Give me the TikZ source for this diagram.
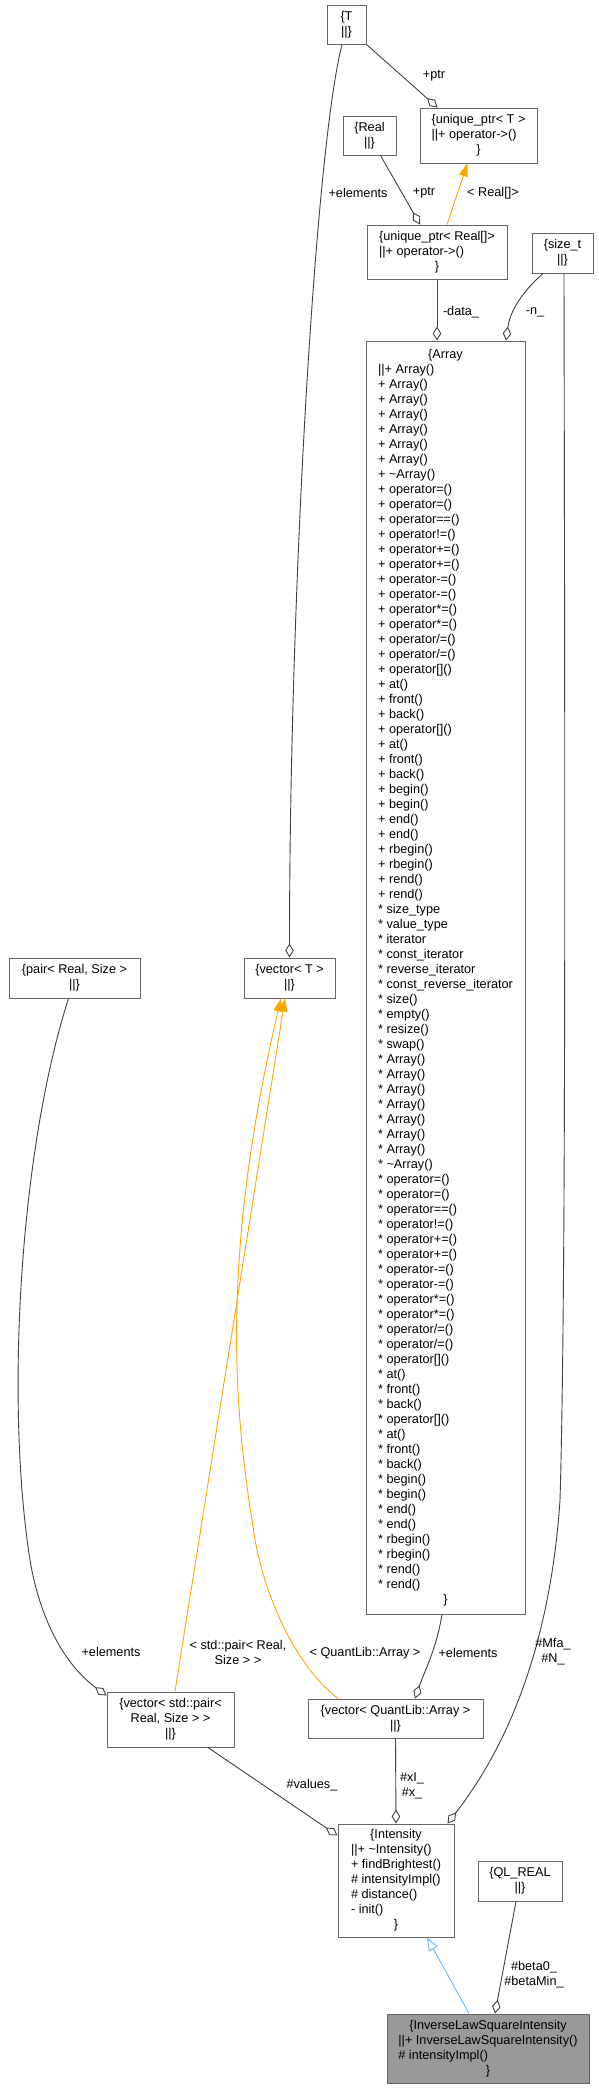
\documentclass[tikz,border=0pt]{standalone}
\usepackage{fontspec}
\setmainfont{Liberation Sans}
\usepackage{tikz}
\usetikzlibrary{calc,arrows.meta}

\definecolor{boxgray}{HTML}{666666}
\definecolor{edgegray}{HTML}{404040}
\definecolor{inhblue}{HTML}{63B8FF}
\definecolor{tplorange}{HTML}{FFA500}
\definecolor{selfgray}{HTML}{999999}

% member list, and a centred line in it
\newcommand{\members}[1]{\begin{tabular}{@{}l@{}}#1\end{tabular}}
\newcommand{\ctr}[1]{\multicolumn{1}{@{}c@{}}{#1}}
% the operators that Array lists twice
\newcommand{\arrayops}[1]{%
{#1} operator=()\\{#1} operator=()\\{#1} operator==()\\{#1} operator!=()\\%
{#1} operator+=()\\{#1} operator+=()\\{#1} operator-=()\\{#1} operator-=()\\%
{#1} operator*=()\\{#1} operator*=()\\{#1} operator/=()\\{#1} operator/=()\\%
{#1} operator[]()\\{#1} at()\\{#1} front()\\{#1} back()\\%
{#1} operator[]()\\{#1} at()\\{#1} front()\\{#1} back()\\%
{#1} begin()\\{#1} begin()\\{#1} end()\\{#1} end()\\%
{#1} rbegin()\\{#1} rbegin()\\{#1} rend()\\{#1} rend()}

\begin{document}
\begin{tikzpicture}[x=1pt, y=-1pt,
    classbox/.style={draw=boxgray, line width=1pt, fill=white, inner sep=0pt, font=\fontsize{12.7}{15}\selectfont},
    tplbox/.style={classbox, align=center},
    selfbox/.style={classbox, fill=selfgray},
    edgelabel/.style={inner sep=0pt, align=center, font=\fontsize{12.7}{15}\selectfont},
    aggr/.style={draw=edgegray, line width=0.9pt, -{Diamond[open, length=14pt, width=8.5pt]}},
    instarrow/.style={draw=tplorange, line width=0.9pt, -{Triangle[length=13pt, width=9pt]}},
    inharrow/.style={draw=inhblue, line width=0.9pt, -{Triangle[open, length=13pt, width=10pt]}}]
    \useasboundingbox (0,0) rectangle (599,2089);

    % Top row
    \node[tplbox, minimum width=39pt, minimum height=39pt] (T) at (346.5,24.5) {\{T\\||\}};
    \node[tplbox, minimum width=53pt, minimum height=39pt] (Real) at (369.5,135.5) {\{Real\\||\}};
    \node[classbox, minimum width=117pt, minimum height=55pt] (uptrT) at (478.5,135.5)
        {\members{\ctr{\{unique\_ptr< T >}\\||+ operator->()\\\ctr{\}}}};
    \node[classbox, minimum width=140pt, minimum height=54pt] (uptrReal) at (437,252)
        {\members{\ctr{\{unique\_ptr< Real[]>}\\||+ operator->()\\\ctr{\}}}};
    \node[tplbox, minimum width=61pt, minimum height=40pt] (sizet) at (562.5,253) {\{size\_t\\||\}};

    % Array
    \node[classbox, minimum width=159pt, minimum height=1273pt] (Array) at (445.5,977.5) {\members{%
        \ctr{\{Array}\\%
        ||+ Array()\\+ Array()\\+ Array()\\+ Array()\\+ Array()\\+ Array()\\+ Array()\\%
        + \textasciitilde Array()\\%
        \arrayops{+}\\%
        {*} size\_type\\{*} value\_type\\{*} iterator\\{*} const\_iterator\\%
        {*} reverse\_iterator\\{*} const\_reverse\_iterator\\%
        {*} size()\\{*} empty()\\{*} resize()\\{*} swap()\\%
        {*} Array()\\{*} Array()\\{*} Array()\\{*} Array()\\{*} Array()\\{*} Array()\\{*} Array()\\%
        {*} \textasciitilde Array()\\%
        \arrayops{*}\\%
        \ctr{\}}}};

    % Templates in the middle
    \node[tplbox, minimum width=131pt, minimum height=40pt] (pair) at (74.5,978) {\{pair< Real, Size >\\||\}};
    \node[tplbox, minimum width=91pt, minimum height=40pt] (vecT) at (289.5,978) {\{vector< T >\\||\}};
    \node[tplbox, minimum width=127pt, minimum height=55pt] (vecPair) at (170.5,1719.5)
        {\{vector< std::pair<\\Real, Size > >\\||\}};
    \node[tplbox, minimum width=175pt, minimum height=39pt] (vecArray) at (395.5,1718.5)
        {\{vector< QuantLib::Array >\\||\}};

    % Bottom
    \node[classbox, minimum width=116pt, minimum height=113pt] (Intensity) at (396,1880.5)
        {\members{\ctr{\{Intensity}\\||+ \textasciitilde Intensity()\\+ findBrightest()\\\# intensityImpl()\\\# distance()\\- init()\\\ctr{\}}}};
    \node[tplbox, minimum width=84pt, minimum height=40pt] (qlreal) at (520,1881) {\{QL\_REAL\\||\}};
    \node[selfbox, minimum width=202pt, minimum height=69pt] (ILSI) at (488,2048.5)
        {\members{\ctr{\{InverseLawSquareIntensity}\\||+ InverseLawSquareIntensity()\\\# intensityImpl()\\\ctr{\}}}};

    % Members
    \draw[aggr] (T.south east) -- ($(uptrT.north)+(-41,0)$);
    \draw[aggr] ($(Real.south)+(11,0)$) -- ($(uptrReal.north)+(-17,0)$);
    \draw[aggr] (uptrReal.south) -- (uptrReal.south |- Array.north);
    \draw[aggr] ($(sizet.south)+(-19.5,0)$) .. controls (530,285) and (511,305) .. ($(Array.north)+(60.5,0)$);
    \draw[aggr] ($(sizet.south)+(1.5,0)$) .. controls (565,800) and (566,1300) .. (560,1500)
        .. controls (552,1620) and (520,1730) .. ($(Intensity.north east)+(-7,0)$);
    \draw[aggr] ($(T.south)+(-4.5,0)$) .. controls (315,150) and (289.5,600) .. (vecT.north);
    \draw[aggr] ($(pair.south)+(-6,0)$) .. controls (20,1150) and (5,1400) .. (30,1560)
        .. controls (40,1620) and (65,1665) .. ($(vecPair.north west)+(0,4)$);
    \draw[aggr] ($(Array.south)+(-3.5,0)$) .. controls (436,1650) and (425,1670) .. ($(vecArray.north)+(19.5,0)$);
    \draw[aggr] ($(vecPair.south)+(37.5,0)$) -- ($(Intensity.north west)+(0,12)$);
    \draw[aggr] (vecArray.south) -- (Intensity.north);
    \draw[aggr] ($(qlreal.south)+(-4,0)$) -- ($(ILSI.north)+(7,0)$);

    % Template instances
    \draw[instarrow] ($(uptrReal.north)+(10,0)$) -- ($(uptrT.south)+(-11,0)$);
    \draw[instarrow] ($(vecPair.north)+(4.5,0)$) -- ($(vecT.south)+(-4.5,0)$);
    \draw[instarrow] ($(vecArray.north)+(-57.5,0)$) .. controls (300,1670) and (262,1600) .. (252,1520)
        .. controls (233,1400) and (222,1250) .. ($(vecT.south)+(-8.5,0)$);

    % Inheritance
    \draw[inharrow] ($(ILSI.north)+(-19,0)$) -- ($(Intensity.south)+(31,0)$);

    % Edge labels
    \node[edgelabel] (lptrT) at (434,76) {+ptr};
    \node[edgelabel] (lptrReal) at (424,193) {+ptr};
    \node[edgelabel] (lreal) at (493,193) {< Real[]>};
    \node[edgelabel] (lelemT) at (358,193) {+elements};
    \node[edgelabel] (ldata) at (461,312) {-data\_};
    \node[edgelabel] (ln) at (535,312) {-n\_};
    \node[edgelabel] (lmfa) at (553,1652) {\#Mfa\_\\\#N\_};
    \node[edgelabel] (lelemArray) at (468,1653) {+elements};
    \node[edgelabel] (lquantlib) at (365,1653) {< QuantLib::Array >};
    \node[edgelabel] (lstdpair) at (238,1652) {< std::pair< Real,\\Size > >};
    \node[edgelabel] (lelemPair) at (111,1652) {+elements};
    \node[edgelabel] (lvalues) at (312,1785) {\#values\_};
    \node[edgelabel] (lx) at (412,1786) {\#xI\_\\\#x\_};
    \node[edgelabel] (lbeta) at (534,1975) {\#beta0\_\\\#betaMin\_};
\end{tikzpicture}
\end{document}
